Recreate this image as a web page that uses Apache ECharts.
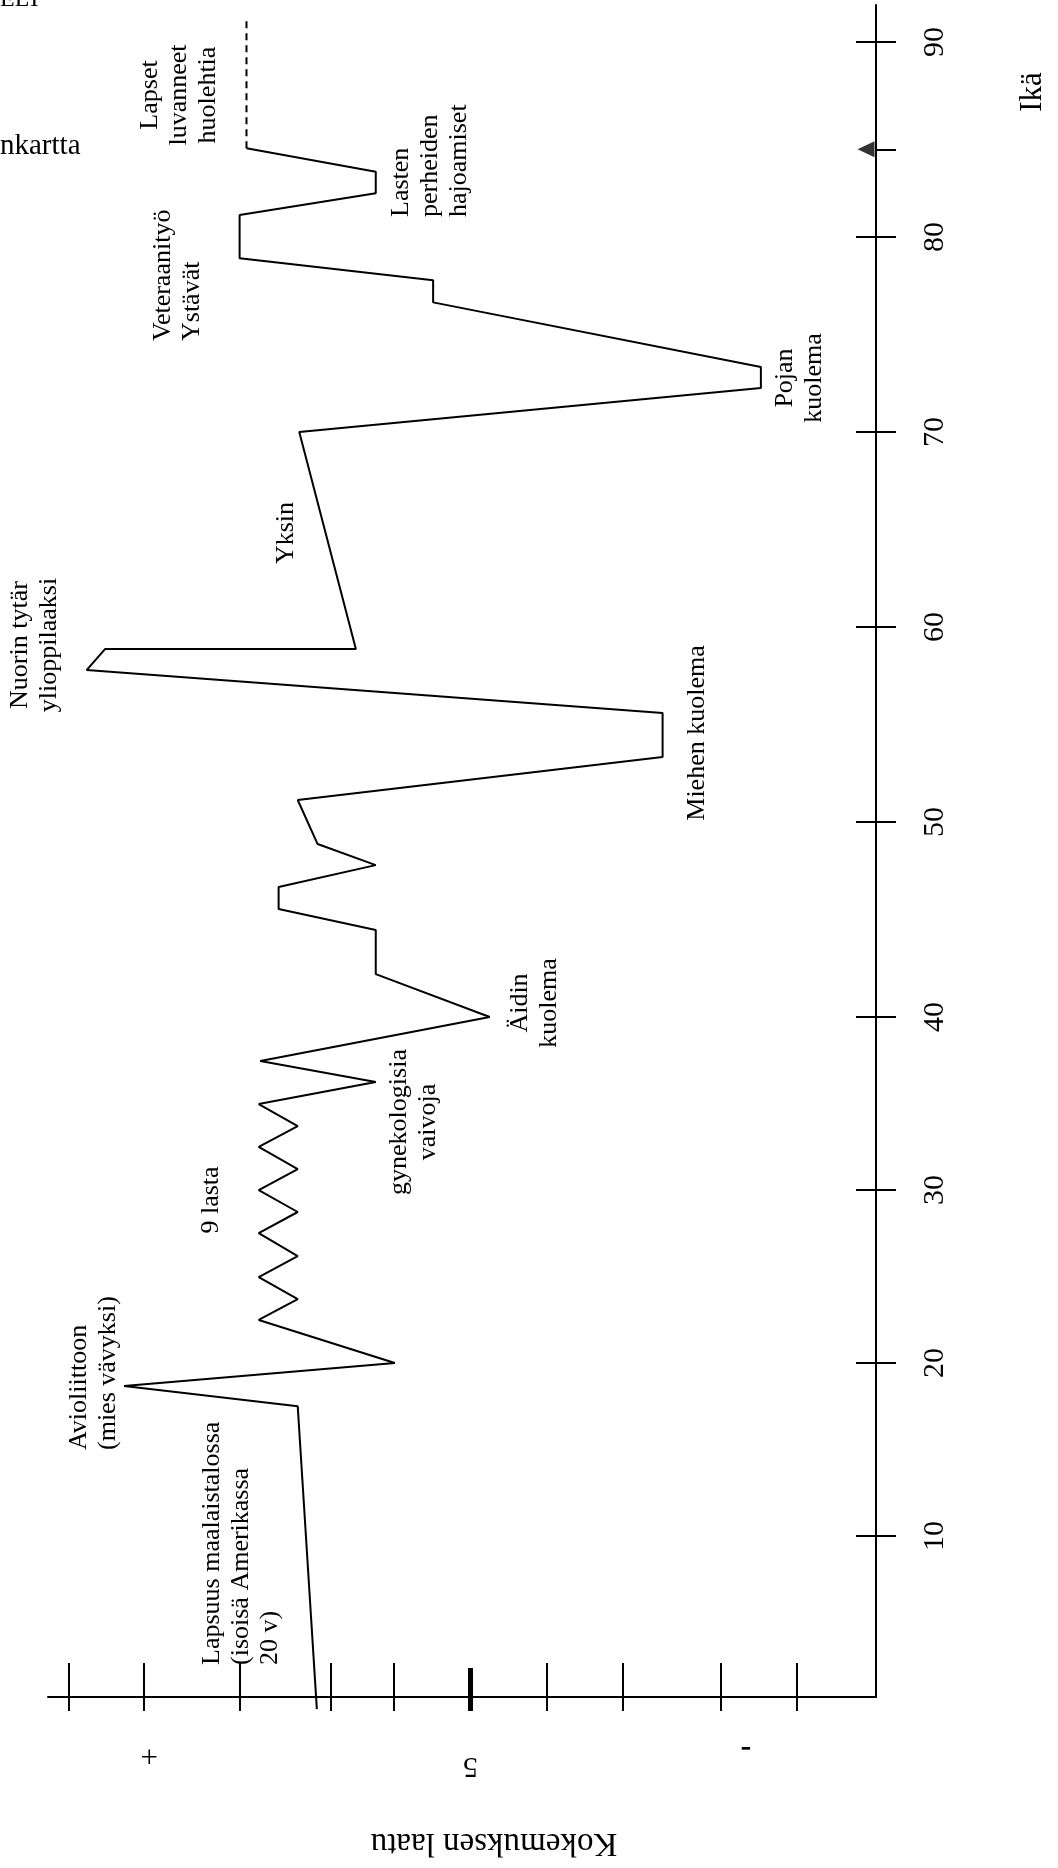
<!DOCTYPE html>
<html><head><meta charset="utf-8">
<script src="https://cdn.jsdelivr.net/npm/echarts@6/dist/echarts.min.js"></script>
<style>html,body{margin:0;padding:0;background:#fff}#c{width:1058px;height:1868px}</style>
</head><body><div id="c"></div>
<script>
// ---- data (age in years, experience quality: 10 = best "+", 5 = neutral, 0 = worst "-") ----
const lifeAges = [0, 17.5, 18.67, 20.0, 22.49, 23.70, 24.97, 26.18, 27.51, 28.73, 30.0, 31.21, 32.49, 33.70, 34.97, 36.24, 37.46, 40.0,
  42.2, 44.46, 45.54, 46.67, 47.79, 48.87, 51.13, 53.33, 55.59, 57.79, 58.87, 58.87, 70.0, 72.26, 73.33, 76.65, 77.79, 78.91, 81.13, 82.24, 83.35, 84.55];
const lifeQuality = [7.01, 7.26, 9.53, 5.99, 7.77, 7.26, 7.77, 7.26, 7.77, 7.26, 7.77, 7.26, 7.77, 7.26, 7.77, 6.24, 7.75, 4.75,
  6.24, 6.24, 7.51, 7.51, 6.24, 7.0, 7.26, 2.49, 2.49, 10.02, 9.78, 6.5, 7.24, 1.205, 1.205, 5.49, 5.49, 8.02, 8.02, 6.24, 6.24, 7.93];
const futureAges = [84.55, 91.2];
const futureQuality = [7.93, 7.93];
const currentAge = 84.5;
const ageTicksUpper = [50, 60, 70, 80, 90];
const ageTicksLower = [10, 20, 30, 40];
const qualityTicks = [10.26, 9.27, 8.02, 6.83, 6.0, 4.0, 3.01, 1.73, 0.73];
const qualityMidTick = [5];
const qualityLabelValues = [9.2, 5, 1.4];
const qualityLabelTexts = ['+', '5', '-'];

// ---- build ----
const BREAK_AGE = 40;
const lowerData = [], upperData = [];
lifeAges.forEach((a, i) => {
  if (a <= BREAK_AGE) lowerData.push([lifeQuality[i], a]);
  if (a >= BREAK_AGE) upperData.push([lifeQuality[i], a]);
});
const futureData = futureAges.map((a, i) => [futureQuality[i], a]);

const FONT = '"Liberation Serif", "Times New Roman", serif';
const Q_MIN = -0.3, Q_MAX = 10.525;
const gridL = 48, gridR = 182;

function xAx(grid, extra) {
  return Object.assign({
    type: 'value', gridIndex: grid, min: Q_MIN, max: Q_MAX, inverse: true, position: 'bottom',
    splitLine: { show: false }, axisLine: { show: false, onZero: false }, axisTick: { show: false }, axisLabel: { show: false }
  }, extra);
}
function yAx(grid, min, max, extra) {
  return Object.assign({
    type: 'value', gridIndex: grid, min: min, max: max, position: 'right',
    splitLine: { show: false }, axisLine: { show: false, onZero: false }, axisTick: { show: false }, axisLabel: { show: false }
  }, extra);
}
const black = { color: '#000', width: 2 };
const ageLabel = { show: true, rotate: 90, margin: 44, fontSize: 30, fontFamily: FONT, color: '#000' };

function txt(text, x, y, align, size) {
  return {
    type: 'text', x: x, y: y, rotation: Math.PI / 2,
    style: { text: text, font: (size || 26) + 'px ' + FONT, fill: '#000', align: align || 'center', verticalAlign: 'middle', lineHeight: 29 }
  };
}

const option = {
  animation: false,
  backgroundColor: '#fff',
  grid: [
    { left: gridL, right: gridR, top: 5, height: 1012 },
    { left: gridL, right: gridR, top: 1017, height: 680 }
  ],
  xAxis: [
    xAx(0, { show: false }),
    xAx(1, {
      axisLine: { show: true, onZero: false, lineStyle: black },
      axisTick: { show: true, inside: true, length: 34, lineStyle: black, customValues: qualityTicks },
      axisLabel: {
        show: true, rotate: 180, margin: 36, customValues: qualityLabelValues, fontFamily: FONT, color: '#000', fontSize: 30,
        formatter: v => { const i = qualityLabelValues.indexOf(v); const t = qualityLabelTexts[i]; return t === '5' ? '{f|5}' : t === '+' ? '{p|+}' : '{m|-}'; },
        rich: {
          f: { fontSize: 30, fontFamily: FONT, padding: [0, 0, 18, 0] },
          p: { fontSize: 31, fontFamily: FONT, padding: [0, 0, 6, 0] },
          m: { fontSize: 32, fontFamily: FONT, fontWeight: 'bold' }
        }
      }
    }),
    xAx(1, { axisTick: { show: true, inside: false, length: 14, lineStyle: black, customValues: qualityTicks } }),
    xAx(1, { axisTick: { show: true, inside: true, length: 29, lineStyle: { color: '#000', width: 5 }, customValues: qualityMidTick } }),
    xAx(1, { axisTick: { show: true, inside: false, length: 14, lineStyle: { color: '#000', width: 5 }, customValues: qualityMidTick } })
  ],
  yAxis: [
    yAx(0, 40, 91.9, {
      axisLine: { show: true, onZero: false, lineStyle: black },
      axisTick: { show: true, inside: false, length: 20, lineStyle: black, customValues: ageTicksUpper.concat([currentAge]) },
      axisLabel: Object.assign({ customValues: ageTicksUpper }, ageLabel)
    }),
    yAx(0, 40, 91.9, { axisTick: { show: true, inside: true, length: 20, lineStyle: black, customValues: ageTicksUpper } }),
    yAx(1, 0.7, 40, {
      axisLine: { show: true, onZero: false, lineStyle: black },
      axisTick: { show: true, inside: false, length: 20, lineStyle: black, customValues: ageTicksLower },
      axisLabel: Object.assign({ customValues: ageTicksLower }, ageLabel)
    }),
    yAx(1, 0.7, 40, { axisTick: { show: true, inside: true, length: 20, lineStyle: black, customValues: ageTicksLower } })
  ],
  series: [
    { type: 'line', xAxisIndex: 1, yAxisIndex: 2, data: lowerData, symbol: 'none', clip: false, lineStyle: { color: '#000', width: 2 } },
    { type: 'line', xAxisIndex: 0, yAxisIndex: 0, data: upperData, symbol: 'none', clip: false, lineStyle: { color: '#000', width: 2 } },
    { type: 'line', xAxisIndex: 0, yAxisIndex: 0, data: futureData, symbol: 'none', clip: false, lineStyle: { color: '#000', width: 2, type: [7, 5] } },
    { type: 'scatter', xAxisIndex: 0, yAxisIndex: 0, data: [[Q_MIN, currentAge]], symbol: 'triangle', symbolRotate: 90,
      symbolSize: [16, 17], symbolOffset: [-10, 0], clip: false, itemStyle: { color: '#000' } }
  ],
  graphic: [
    { type: 'text', x: 0, y: 12, style: { text: 'ELT', font: '24px ' + FONT, fill: '#000', align: 'left', verticalAlign: 'bottom' } },
    { type: 'text', x: 0, y: 146, style: { text: 'nkartta', font: '29px ' + FONT, fill: '#000', align: 'left', verticalAlign: 'middle' } },
    txt('Lapset\nluvanneet\nhuolehtia', 179, 95, 'center'),
    txt('Veteraanityö\nYstävät', 178, 341, 'left'),
    txt('Lasten\nperheiden\nhajoamiset', 430, 217, 'left'),
    txt('Pojan\nkuolema', 800, 378, 'center'),
    txt('Yksin', 286, 533, 'center'),
    txt('Nuorin tytär\nylioppilaaksi', 35, 645, 'center'),
    txt('Miehen kuolema', 697, 733, 'center'),
    txt('Äidin\nkuolema', 535, 1003, 'center'),
    txt('gynekologisia\nvaivoja', 414, 1122, 'center'),
    txt('9 lasta', 211, 1200, 'center'),
    txt('Avioliittoon\n(mies vävyksi)', 94, 1450, 'left'),
    txt('Lapsuus maalaistalossa\n(isoisä Amerikassa\n20 v)', 241, 1665, 'left'),
    txt('Ikä', 1033, 92, 'center', 31),
    { type: 'text', x: 494, y: 1843, rotation: Math.PI,
      style: { text: 'Kokemuksen laatu', font: '33px ' + FONT, fill: '#000', align: 'center', verticalAlign: 'middle' } }
  ]
};
const chart = echarts.init(document.getElementById('c'));
chart.setOption(option);
</script></body></html>
